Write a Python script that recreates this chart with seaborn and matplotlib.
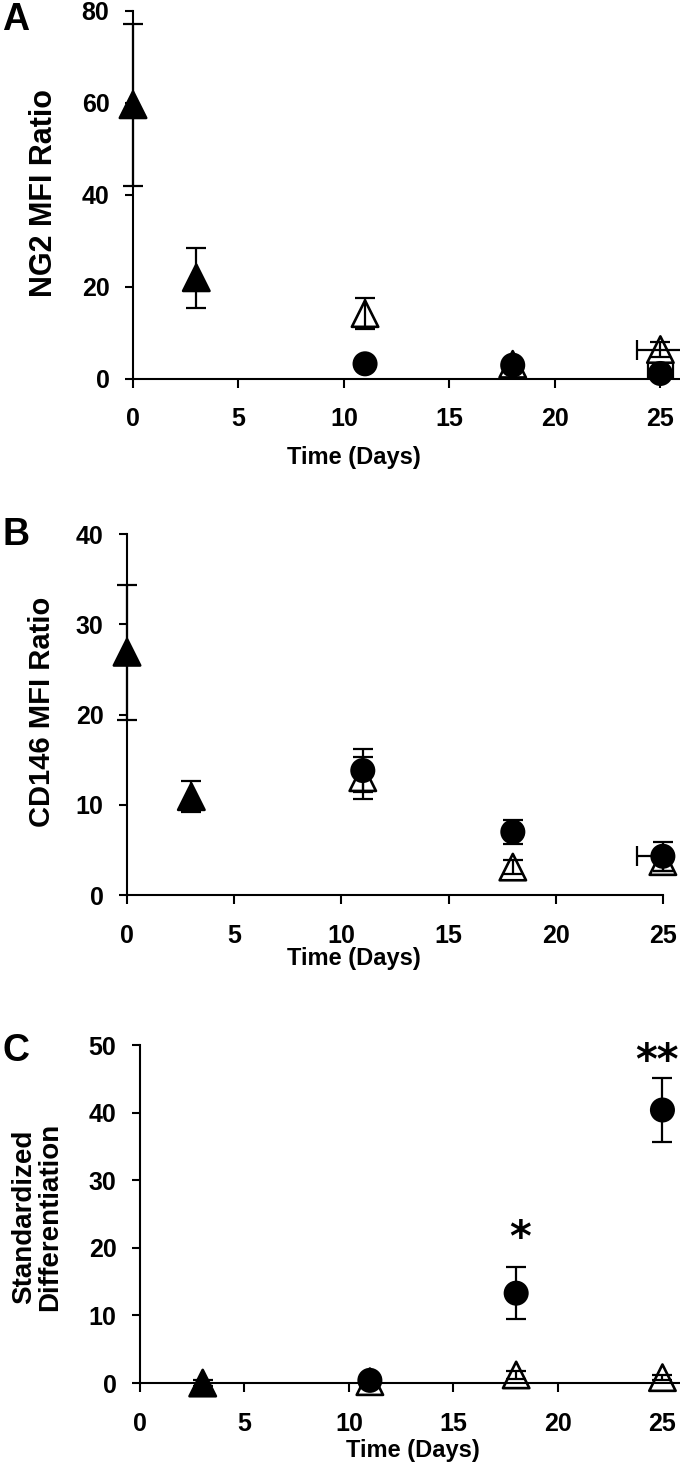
import matplotlib
matplotlib.use("Agg")
import matplotlib.pyplot as plt
import seaborn as sns
import pandas as pd

sns.set_theme(style="ticks")
plt.rcParams['font.family'] = ['Liberation Sans', 'DejaVu Sans']
plt.rcParams['font.weight'] = 'bold'
plt.rcParams['text.color'] = 'black'
plt.rcParams['axes.labelcolor'] = 'black'

# ---------------- data ----------------
groups = ["filled_triangle", "open_triangle", "circle"]
days_early = [0, 3]
days_late = [11, 18, 25]

# Panel A: NG2 MFI Ratio
A_tri = [59.6, 22.0]
A_tri_err = [17.6, 6.5]
A_open = [14.2, 3.2, 6.4]
A_open_err = [3.3, 1.0, 1.6]
A_open_xerr = [0, 0, 1.1]
A_circ = [3.3, 3.0, 1.2]
A_circ_err = [0.8, 0.8, 0.5]
A_circ_xerr = [0, 0, 0.6]

# Panel B: CD146 MFI Ratio
B_tri = [26.9, 10.9]
B_tri_err = [7.5, 1.7]
B_open = [13.0, 3.1, 3.7]
B_open_err = [2.3, 0.8, 1.0]
B_open_xerr = [0, 0, 0]
B_circ = [13.8, 7.0, 4.3]
B_circ_err = [2.4, 1.3, 1.6]
B_circ_xerr = [0, 0, 1.2]

# Panel C: Standardized Differentiation
C_tri_days = [3]
C_tri = [0.0]
C_tri_err = [0.5]
C_open = [0.2, 1.2, 0.8]
C_open_err = [0.3, 0.6, 0.4]
C_open_xerr = [0, 0, 0]
C_circ = [0.4, 13.3, 40.4]
C_circ_err = [0.5, 3.8, 4.7]
C_circ_xerr = [0, 0, 0]

x_ticks = [0, 5, 10, 15, 20, 25]
A_yticks = [0, 20, 40, 60, 80]
B_yticks = [0, 10, 20, 30, 40]
C_yticks = [0, 10, 20, 30, 40, 50]
sig_labels = ["*", "**"]
sig_days = [18.2, 24.75]
sig_y = [21.3, 47.5]


def build(tri_days, tri, tri_err, open_, open_err, open_xerr, circ, circ_err, circ_xerr):
    rows = []
    for d, v, e in zip(tri_days, tri, tri_err):
        rows.append(dict(day=d, value=v, err=e, xerr=0, group="filled_triangle"))
    for d, v, e, xe in zip(days_late, open_, open_err, open_xerr):
        rows.append(dict(day=d, value=v, err=e, xerr=xe, group="open_triangle"))
    for d, v, e, xe in zip(days_late, circ, circ_err, circ_xerr):
        rows.append(dict(day=d, value=v, err=e, xerr=xe, group="circle"))
    return pd.DataFrame(rows)


dfA = build(days_early, A_tri, A_tri_err, A_open, A_open_err, A_open_xerr, A_circ, A_circ_err, A_circ_xerr)
dfB = build(days_early, B_tri, B_tri_err, B_open, B_open_err, B_open_xerr, B_circ, B_circ_err, B_circ_xerr)
dfC = build(C_tri_days, C_tri, C_tri_err, C_open, C_open_err, C_open_xerr, C_circ, C_circ_err, C_circ_xerr)

markers = {"filled_triangle": "^", "open_triangle": "^", "circle": "o"}
palette = {"filled_triangle": "black", "open_triangle": "white", "circle": "black"}
sizes = {"filled_triangle": 360, "open_triangle": 360, "circle": 260}

fig = plt.figure(figsize=(6.8, 14.77), dpi=100)


def panel(rect, df, xlim, ylim, yticks, ylabel, ylab_pos, ylab_size, xlab_pos, letter, letter_pos):
    ax = fig.add_axes(rect)
    ax.errorbar(df["day"], df["value"], yerr=df["err"], fmt="none", ecolor="black",
                elinewidth=1.6, capsize=7, capthick=1.6, zorder=3, clip_on=False)
    dx = df[df["xerr"] > 0]
    if len(dx):
        ax.errorbar(dx["day"], dx["value"], xerr=dx["xerr"], fmt="none", ecolor="black",
                    elinewidth=1.6, capsize=7, capthick=1.6, zorder=3)
    sns.scatterplot(data=df, x="day", y="value", hue="group", style="group", size="group",
                    markers=markers, palette=palette, sizes=sizes, edgecolor="black",
                    linewidth=1.9, legend=False, ax=ax, clip_on=False, zorder=2)
    ax.set_xlim(*xlim)
    ax.set_ylim(*ylim)
    ax.set_xticks(x_ticks)
    ax.set_yticks(yticks)
    sns.despine(ax=ax)
    for s in ["left", "bottom"]:
        ax.spines[s].set_linewidth(1.5)
        ax.spines[s].set_color("black")
    ax.tick_params(axis="x", direction="out", length=6.5, width=1.5, pad=14,
                   labelsize=18, colors="black")
    ax.tick_params(axis="y", direction="out", length=5.5, width=1.5, pad=11.5,
                   labelsize=18, colors="black")
    ax.set_xlabel("Time (Days)", fontsize=17, fontweight="bold", color="black")
    ax.xaxis.label.set(va="center", ha="center")
    ax.xaxis.set_label_coords(*xlab_pos)
    ax.set_ylabel(ylabel, fontsize=ylab_size, fontweight="bold", linespacing=1.0, color="black")
    ax.yaxis.label.set(rotation_mode="default", va="center", ha="center")
    ax.yaxis.set_label_coords(*ylab_pos)
    fig.text(letter_pos[0], letter_pos[1], letter, fontsize=27, fontweight="bold",
             ha="center", va="center", color="black")
    return ax


axA = panel([0.1956, 0.7434, 0.8044, 0.2492], dfA, (0, 25.93), (0, 80), A_yticks,
            "NG2 MFI Ratio", (-0.163, 0.505), 22, (0.404, -0.212), "A", (16 / 680, 1 - 20 / 1477))
axB = panel([0.1868, 0.394, 0.788, 0.2444], dfB, (0, 25), (0, 40), B_yticks,
            "CD146 MFI Ratio", (-0.159, 0.507), 21, (0.4235, -0.177), "B", (16 / 680, 1 - 535 / 1477))
axC = panel([0.2059, 0.0636, 0.7941, 0.2288], dfC, (0, 25.84), (0, 50), C_yticks,
            "Standardized\nDifferentiation", (-0.191, 0.491), 20, (0.5056, -0.201), "C",
            (16 / 680, 1 - 1051 / 1477))

for lab, d, y in zip(sig_labels, sig_days, sig_y):
    axC.text(d, y, lab, ha="center", va="center", fontsize=30, fontweight="bold",
             family=["DejaVu Sans"], color="black")

fig.savefig("out.png", dpi=100)
